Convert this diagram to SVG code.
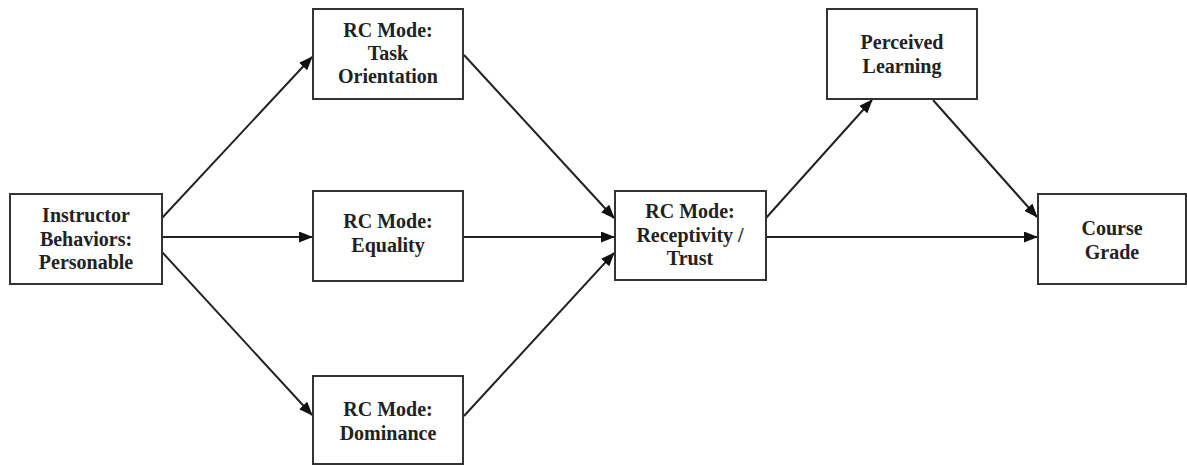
<svg xmlns="http://www.w3.org/2000/svg" width="1187" height="466" viewBox="0 0 1187 466">
<style>
.box{fill:#fff;stroke:#333;stroke-width:2}
.t{font-family:"Liberation Serif","Times New Roman",serif;font-weight:bold;font-size:20px;fill:#222;text-anchor:middle}
.c{stroke:#222;stroke-width:2;fill:none;marker-end:url(#ah)}
</style>
<defs>
<marker id="ah" markerWidth="14" markerHeight="11" refX="13" refY="5.5" orient="auto" markerUnits="userSpaceOnUse">
<path d="M0,0 L14,5.5 L0,11 Z" fill="#111"/>
</marker>
</defs>
<rect width="1187" height="466" fill="#fff"/>
<g id="connectors">
<line class="c" x1="162" y1="218" x2="312" y2="57"/>
<line class="c" x1="162" y1="237" x2="312" y2="237"/>
<line class="c" x1="162" y1="252" x2="312" y2="415"/>
<line class="c" x1="464" y1="55" x2="614" y2="218"/>
<line class="c" x1="464" y1="237" x2="614" y2="237"/>
<line class="c" x1="464" y1="416" x2="614" y2="253"/>
<line class="c" x1="766" y1="218" x2="872" y2="100"/>
<line class="c" x1="766" y1="237" x2="1037" y2="237"/>
<line class="c" x1="933" y1="100" x2="1037" y2="217"/>
</g>
<g id="instructor">
<rect class="box" x="10" y="194" width="152" height="90"/>
<text class="t" x="86" y="222">Instructor</text>
<text class="t" x="86" y="246">Behaviors:</text>
<text class="t" x="86" y="269">Personable</text>
</g>
<g id="task">
<rect class="box" x="313" y="9" width="150" height="90"/>
<text class="t" x="388" y="37">RC Mode:</text>
<text class="t" x="388" y="60">Task</text>
<text class="t" x="388" y="83">Orientation</text>
</g>
<g id="equality">
<rect class="box" x="313" y="191" width="150" height="90"/>
<text class="t" x="388" y="228">RC Mode:</text>
<text class="t" x="388" y="252">Equality</text>
</g>
<g id="dominance">
<rect class="box" x="313" y="376" width="150" height="88"/>
<text class="t" x="388" y="416">RC Mode:</text>
<text class="t" x="388" y="440">Dominance</text>
</g>
<g id="receptivity">
<rect class="box" x="615" y="191" width="151" height="89"/>
<text class="t" x="690" y="218">RC Mode:</text>
<text class="t" x="690" y="242">Receptivity /</text>
<text class="t" x="690" y="265">Trust</text>
</g>
<g id="perceived">
<rect class="box" x="827" y="9" width="150" height="90"/>
<text class="t" x="902" y="49">Perceived</text>
<text class="t" x="902" y="73">Learning</text>
</g>
<g id="course">
<rect class="box" x="1038" y="194" width="148" height="90"/>
<text class="t" x="1112" y="235">Course</text>
<text class="t" x="1112" y="259">Grade</text>
</g>
</svg>
